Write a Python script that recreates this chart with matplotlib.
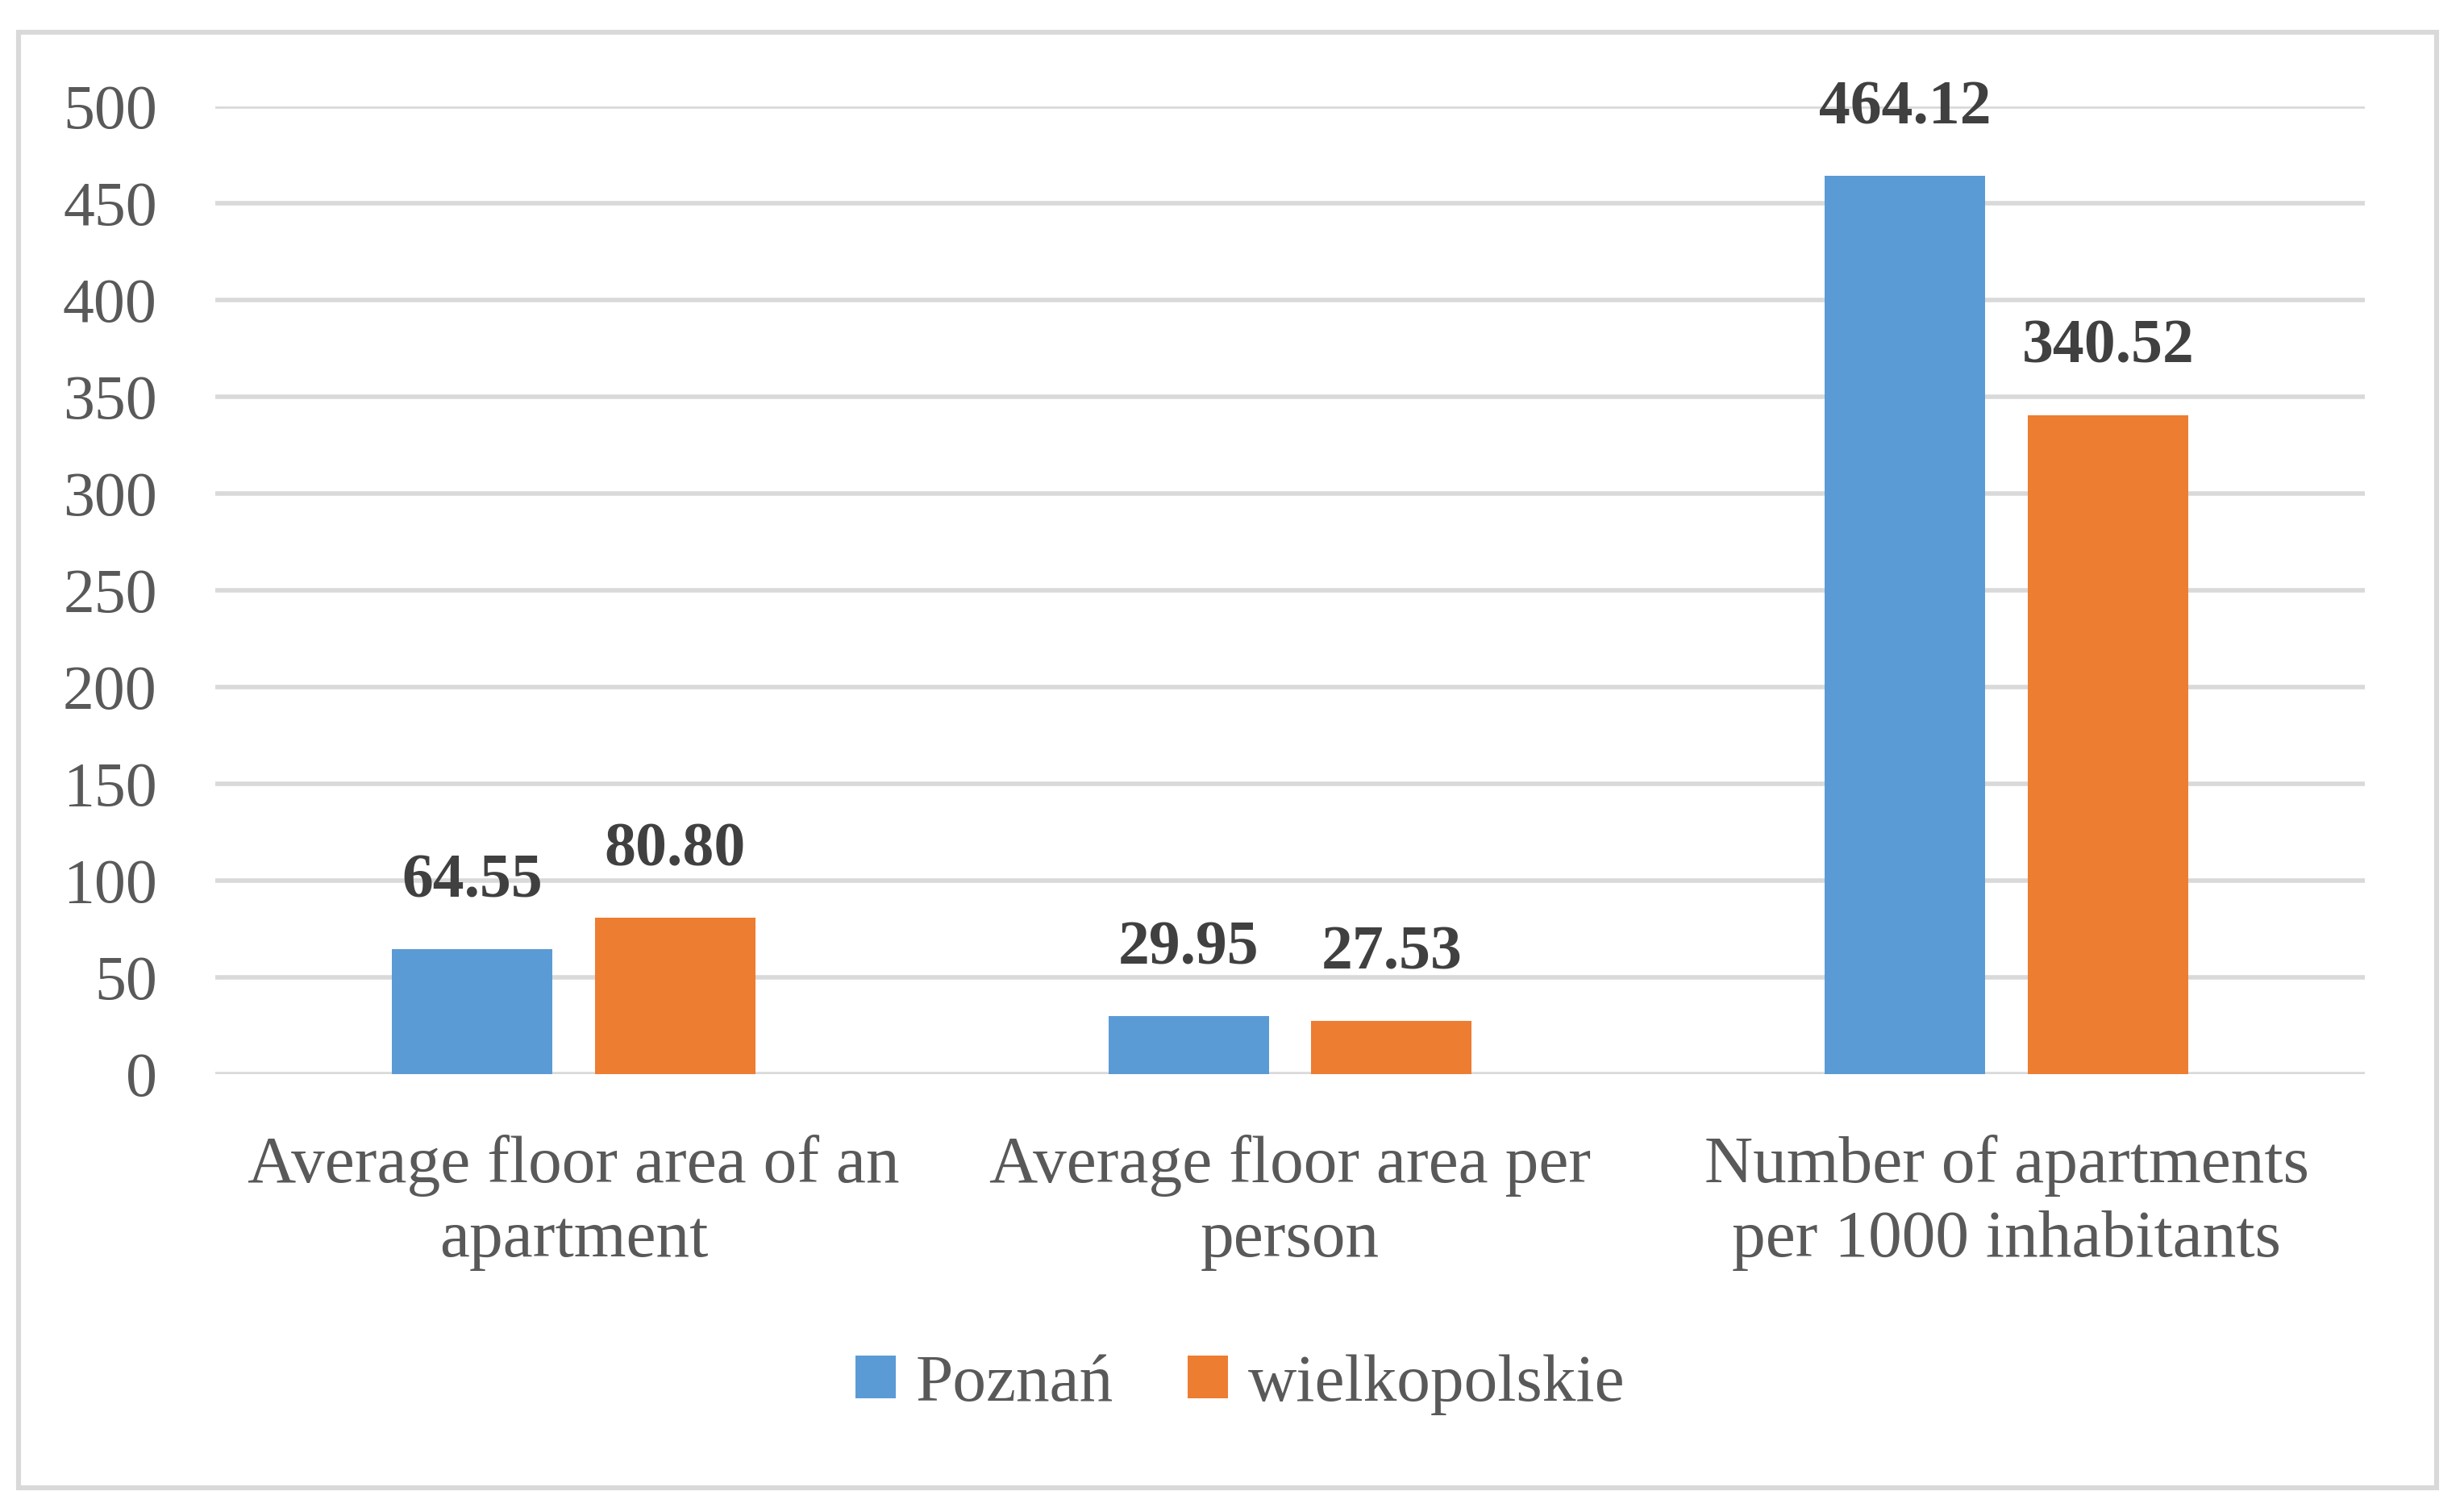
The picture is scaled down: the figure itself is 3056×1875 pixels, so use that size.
import numpy as np
import matplotlib
matplotlib.use("Agg")
import matplotlib.pyplot as plt
from matplotlib.patches import Patch, Rectangle

# data
categories = [
    "Average floor area of an\napartment",
    "Average floor area per\nperson",
    "Number of apartments\nper 1000 inhabitants",
]
series_names = ["Poznań", "wielkopolskie"]
poznan = [64.55, 29.95, 464.12]
wielkopolskie = [80.80, 27.53, 340.52]
yticks = [0, 50, 100, 150, 200, 250, 300, 350, 400, 450, 500]

BLUE = "#5B9BD5"
ORANGE = "#ED7D31"
GRID = "#D9D9D9"
TEXT = "#595959"

plt.rcParams["font.family"] = ["Liberation Serif", "DejaVu Serif"]

W, H, DPI = 3056, 1875, 200
fig = plt.figure(figsize=(W / DPI, H / DPI), dpi=DPI)

# outer chart border
fig.patches.append(
    Rectangle((23 / W, 1 - 1845 / H), (3022 - 23) / W, (1845 - 40) / H,
              transform=fig.transFigure, fill=False, edgecolor=GRID, linewidth=2.2)
)

ax = fig.add_axes([267 / W, 1 - 1332 / H, (2933 - 267) / W, (1332 - 132) / H])

x = np.arange(len(categories))
bw = 0.224
off = (bw + 0.059) / 2
bars1 = ax.bar(x - off, poznan, bw, color=BLUE, zorder=3, label=series_names[0])
bars2 = ax.bar(x + off, wielkopolskie, bw, color=ORANGE, zorder=3, label=series_names[1])

for bars, vals in [(bars1, poznan), (bars2, wielkopolskie)]:
    for b, v in zip(bars, vals):
        ax.annotate(f"{v:.2f}", (b.get_x() + b.get_width() / 2, v),
                    xytext=(0, 30), textcoords="offset points",
                    ha="center", va="center", fontsize=28, fontweight="bold",
                    color="#404040")

ax.set_xlim(-0.5, 2.5)
ax.set_ylim(0, 500)
ax.set_yticks(yticks)
ax.set_xticks(x)
ax.set_xticklabels(categories, fontsize=30, color=TEXT, linespacing=1.28)
ax.tick_params(axis="y", labelsize=28, labelcolor=TEXT, length=0, pad=26)
ax.tick_params(axis="x", length=0, pad=27)
ax.yaxis.grid(True, color=GRID, linewidth=2.0, zorder=0)
ax.set_axisbelow(True)
for s in ax.spines.values():
    s.set_visible(False)

handles = [Patch(facecolor=BLUE), Patch(facecolor=ORANGE)]
fig.legend(handles, series_names, loc="center", bbox_to_anchor=(1538 / W, 1 - 1717 / H),
           ncol=2, frameon=False, fontsize=30, labelcolor=TEXT,
           handlelength=0.6, handleheight=0.6, handletextpad=0.3, columnspacing=1.1)

fig.savefig("out.png", dpi=DPI, facecolor="white")
